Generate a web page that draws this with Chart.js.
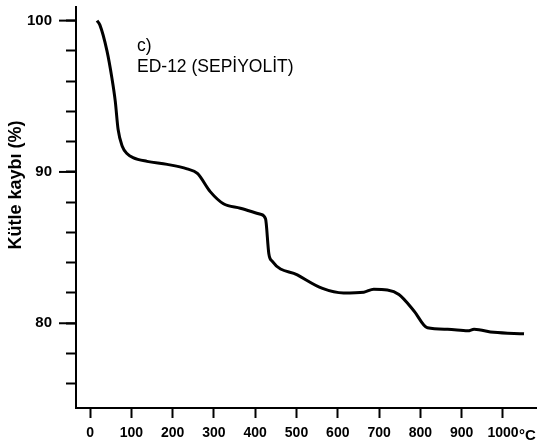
<!DOCTYPE html>
<html>
<head>
<meta charset="utf-8">
<script src="https://cdn.jsdelivr.net/npm/chart.js@4.4.0/dist/chart.umd.min.js"></script>
<style>
  html, body { margin: 0; padding: 0; background: #fff; }
  #wrap { width: 540px; height: 444px; }
</style>
</head>
<body>
<div id="wrap"><canvas id="graph" width="540" height="444"></canvas></div>
<script>
// temperature (°C) and mass (%)
const temps = [17, 24, 41, 53, 61, 68, 78, 90, 104, 138, 187, 235, 260, 291, 323, 364, 413, 425, 433, 441, 502, 563, 614, 663, 687, 720, 748, 785, 817, 866, 915, 930, 978, 1051];
const mass = [100, 99.7, 98.0, 96.2, 94.7, 92.8, 91.7, 91.2, 90.95, 90.7, 90.5, 90.2, 89.9, 88.7, 87.9, 87.6, 87.2, 86.9, 84.6, 84.1, 83.2, 82.3, 82.0, 82.05, 82.25, 82.2, 81.9, 80.8, 79.7, 79.6, 79.5, 79.6, 79.4, 79.3];

const xTicks = [0, 100, 200, 300, 400, 500, 600, 700, 800, 900, 1000];
const yTicks = [76, 78, 80, 82, 84, 86, 88, 90, 92, 94, 96, 98, 100];
const yLabels = [80, 90, 100];

const titleLines = ['c)', 'ED-12 (SEPİYOLİT)'];
const yTitle = 'Kütle kaybı (%)';
const xUnit = '°C';

const FONT = "'Liberation Sans', Arial, sans-serif";

// Function to draw extra bits: longer major y ticks, the caption, axis title and the unit
const extras = {
    id: 'extras',
    afterDraw(chart) {
        const ctx = chart.ctx;
        const y = chart.scales.y;
        const x = chart.scales.x;
        ctx.save();
        ctx.strokeStyle = '#000';
        ctx.lineWidth = 2;
        // major ticks are longer
        yLabels.forEach(v => {
            const py = y.getPixelForValue(v);
            ctx.beginPath();
            ctx.moveTo(y.right - 17, py);
            ctx.lineTo(y.right, py);
            ctx.stroke();
        });
        ctx.fillStyle = '#000';
        ctx.font = '17.5px ' + FONT;
        ctx.textBaseline = 'alphabetic';
        ctx.textAlign = 'left';
        ctx.fillText(titleLines[0], 137, 51);
        ctx.fillText(titleLines[1], 137, 72);
        // unit next to the last x label
        ctx.font = 'bold 15px ' + FONT;
        const px = x.getPixelForValue(1000);
        ctx.fillText(xUnit, px + 16, 440);
        // y axis title
        ctx.translate(21, 185);
        ctx.rotate(-Math.PI / 2);
        ctx.textAlign = 'center';
        ctx.font = 'bold 18px ' + FONT;
        ctx.fillText(yTitle, 0, 0);
        ctx.restore();
    }
};

const ctx = document.getElementById('graph').getContext('2d');

window.chart = new Chart(ctx, {
    type: 'line',
    data: {
        datasets: [{
            label: 'ED-12',
            data: temps.map((t, i) => ({ x: t, y: mass[i] })),
            borderColor: '#000',
            borderWidth: 3,
            pointRadius: 0,
            cubicInterpolationMode: 'monotone',
            fill: false
        }]
    },
    options: {
        responsive: false,
        animation: false,
        layout: { padding: { top: 7, right: 4, left: 0, bottom: 0 } },
        plugins: {
            legend: { display: false },
            tooltip: { enabled: false }
        },
        scales: {
            x: {
                type: 'linear',
                min: -34,
                max: 1080,
                afterBuildTicks: axis => { axis.ticks = xTicks.map(v => ({ value: v })); },
                afterFit: axis => { axis.height = 36; axis.paddingLeft = 0; axis.paddingRight = 0; },
                border: { display: true, color: '#000', width: 2 },
                grid: { drawOnChartArea: false, color: '#000', tickLength: 10, tickWidth: 2 },
                ticks: {
                    color: '#000',
                    font: { family: FONT, size: 14, weight: 'bold' },
                    padding: 7,
                    maxRotation: 0,
                    autoSkip: false,
                    callback: v => String(v)
                }
            },
            y: {
                type: 'linear',
                min: 74.4,
                max: 100.9,
                afterBuildTicks: axis => { axis.ticks = yTicks.map(v => ({ value: v })); },
                afterFit: axis => { axis.width = 76; axis.paddingTop = 0; axis.paddingBottom = 0; },
                border: { display: true, color: '#000', width: 2 },
                grid: { drawOnChartArea: false, color: '#000', tickLength: 10, tickWidth: 2 },
                ticks: {
                    color: '#000',
                    font: { family: FONT, size: 15, weight: 'bold' },
                    padding: 14,
                    autoSkip: false,
                    callback: v => yLabels.includes(v) ? String(v) : ''
                }
            }
        }
    },
    plugins: [extras]
});
</script>
</body>
</html>
